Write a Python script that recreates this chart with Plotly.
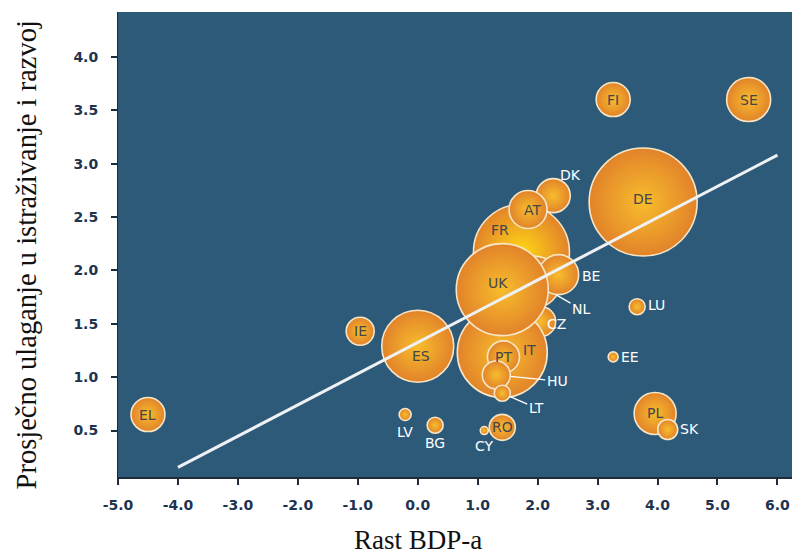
import plotly.graph_objects as go

# ---- data (draw order: larger / background bubbles first) ----
drzave = ["DE", "FR", "NL", "BE", "CZ", "IT", "UK", "ES", "DK", "AT", "SE", "PL", "FI",
          "EL", "PT", "IE", "HU", "RO", "SK", "LT", "LU", "BG", "LV", "EE", "CY"]
rast_bdp = [3.76, 1.73, 1.94, 2.35, 2.05, 1.41, 1.41, 0.00, 2.26, 1.84, 5.52, 3.96, 3.26,
            -4.50, 1.43, -0.96, 1.31, 1.41, 4.17, 1.41, 3.66, 0.29, -0.21, 3.26, 1.11]
ulaganje_ir = [2.64, 2.17, 1.89, 1.96, 1.52, 1.23, 1.82, 1.29, 2.70, 2.57, 3.60, 0.66, 3.60,
               0.65, 1.19, 1.43, 1.02, 0.53, 0.51, 0.85, 1.66, 0.55, 0.65, 1.19, 0.50]
velicina = [2916, 2304, 676, 400, 225, 2025, 2116, 1296, 289, 361, 484, 441, 289,
            289, 256, 196, 196, 169, 100, 64, 64, 64, 36, 25, 16]

trend_x = [-4.0, 6.0]
trend_y = [0.155, 3.08]

x_ticks = [-5, -4, -3, -2, -1, 0, 1, 2, 3, 4, 5, 6]
y_ticks = [0.5, 1.0, 1.5, 2.0, 2.5, 3.0, 3.5, 4.0]

# ---- label styles: (xshift, yshift, inside-dark?) ----
label_style = {
    "DE": (0, 3, True), "FR": (-21, 22, True), "BE": (32, -1, False), "CZ": (16, -2, False),
    "IT": (27, 3, True), "UK": (-4, 7, True), "ES": (3, -10, True), "DK": (17, 21, False),
    "AT": (4, 0, True), "SE": (0, 0, True), "PL": (0, 0, True), "FI": (0, 0, True),
    "EL": (0, 0, True), "PT": (0, 0, True), "IE": (0, 0, True), "RO": (0, 0, True),
    "SK": (22, 0, False), "LU": (19, 2, False), "BG": (0, -18, False), "LV": (0, -17, False),
    "EE": (17, 0, False), "CY": (0, -15, False),
}
# leader-line labels: (ax, ay, standoff)
leader_style = {"NL": (47, 27, 26), "HU": (61, 6, 14), "LT": (34, 15, 8)}

grad_centres = ["#ffd814" if d == "FR" else "#f7bd2c" for d in drzave]

fig = go.Figure()

fig.add_trace(go.Scatter(
    x=rast_bdp, y=ulaganje_ir, mode="markers",
    marker=dict(size=velicina, sizemode="area", sizeref=0.5,
                color="#e2832a",
                gradient=dict(type="radial", color=grad_centres),
                line=dict(color="#f6e6c6", width=1.6), opacity=1),
    hoverinfo="text", text=drzave, showlegend=False,
))

fig.add_trace(go.Scatter(
    x=trend_x, y=trend_y, mode="lines",
    line=dict(color="#eef2f5", width=3), showlegend=False, hoverinfo="skip",
))

ann = []
for d, xv, yv in zip(drzave, rast_bdp, ulaganje_ir):
    if d in label_style:
        xs, ys, inside = label_style[d]
        ann.append(dict(x=xv, y=yv, text=d, showarrow=False, xshift=xs, yshift=ys,
                        xanchor="center", yanchor="middle",
                        font=dict(family="DejaVu Sans", size=14,
                                  color="#45454c" if inside else "#ffffff")))
    elif d in leader_style:
        ax, ay, so = leader_style[d]
        ann.append(dict(x=xv, y=yv, text=d, showarrow=True, ax=ax, ay=ay, standoff=so,
                        arrowhead=0, arrowwidth=1.3, arrowcolor="#ffffff",
                        font=dict(family="DejaVu Sans", size=14, color="#ffffff")))

ann.append(dict(xref="paper", yref="paper", x=0.4355, y=-0.135, text="Rast BDP-a",
                showarrow=False, xanchor="center", yanchor="middle",
                font=dict(family="Liberation Serif", size=27, color="#111111")))
ann.append(dict(xref="paper", yref="paper", x=-0.133, y=0.477,
                text="Prosječno ulaganje u istraživanje i razvoj", textangle=-90,
                showarrow=False, xanchor="center", yanchor="middle",
                font=dict(family="Liberation Serif", size=28.5, color="#111111")))

tick_font = dict(family="DejaVu Sans", size=14, color="#1d3350", weight="bold")

# page body has an 8px default margin, so the margins are offset by 8px
fig.update_layout(
    width=800, height=554,
    margin=dict(l=110, r=0, t=4, b=85),
    paper_bgcolor="#ffffff", plot_bgcolor="#2e5a7a",
    annotations=ann,
    xaxis=dict(range=[-5.0, 6.51], tickvals=x_ticks,
               ticktext=[f"{v:.1f}" for v in x_ticks],
               showgrid=False, zeroline=False, ticks="outside", ticklen=6,
               tickwidth=1.5, tickcolor="#1d2b3a", showline=True, linecolor="#1d2b3a",
               linewidth=2, tickfont=tick_font, ticklabelstandoff=8),
    yaxis=dict(range=[0.065, 4.42], tickvals=y_ticks,
               ticktext=[f"{v:.1f}" for v in y_ticks],
               showgrid=False, zeroline=False, ticks="outside", ticklen=6,
               tickwidth=1.5, tickcolor="#1d2b3a", showline=True, linecolor="#1d2b3a",
               linewidth=1, tickfont=tick_font, ticklabelstandoff=10),
)

fig.write_html("out.html")
